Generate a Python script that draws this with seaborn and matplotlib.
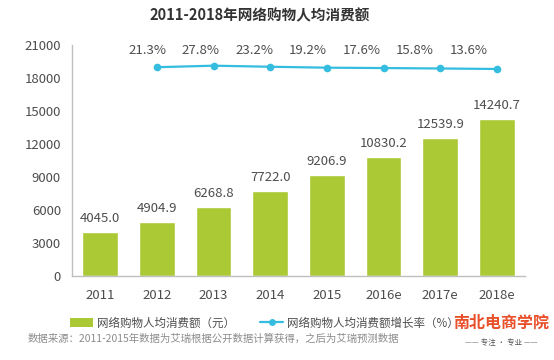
import numpy as np
import pandas as pd
import matplotlib
matplotlib.use("Agg")
import matplotlib.pyplot as plt
from matplotlib.patches import Patch
from matplotlib.lines import Line2D
import seaborn as sns

years = ["2011", "2012", "2013", "2014", "2015", "2016e", "2017e", "2018e"]
spend = [4045.0, 4904.9, 6268.8, 7722.0, 9206.9, 10830.2, 12539.9, 14240.7]
growth_years = ["2012", "2013", "2014", "2015", "2016e", "2017e", "2018e"]
growth = [21.3, 27.8, 23.2, 19.2, 17.6, 15.8, 13.6]
yticks = [0, 3000, 6000, 9000, 12000, 15000, 18000, 21000]

title = "2011-2018年网络购物人均消费额"
bar_name = "网络购物人均消费额（元）"
line_name = "网络购物人均消费额增长率（%）"
source = "数据来源：2011-2015年数据为艾瑞根据公开数据计算获得，之后为艾瑞预测数据"

sns.set_theme(style="white")
plt.rcParams["font.family"] = ["Noto Sans CJK SC", "DejaVu Sans"]

GREEN = "#abc935"
CYAN = "#35bde0"
TXT = "#4d4d4d"
AX = "#bfbfbf"

fig = plt.figure(figsize=(5.54, 3.6), dpi=100)
ax = fig.add_axes([0.130, 0.2333, 0.818, 0.6417])

df = pd.DataFrame({"year": years, "spend": spend})
sns.barplot(data=df, x="year", y="spend", order=years, color=GREEN,
            width=0.63, saturation=1, ax=ax)
ax.set_xlim(-0.5, 7.5)
ax.set_ylim(0, 21000)
ax.set_yticks(yticks)
ax.set_yticklabels([str(v) for v in yticks])
ax.set_xlabel("")
ax.set_ylabel("")
ax.tick_params(axis="both", length=0, labelsize=9.5, colors=TXT)
ax.tick_params(axis="x", pad=9)
ax.tick_params(axis="y", pad=8)
for s in ["top", "right"]:
    ax.spines[s].set_visible(False)
for s in ["left", "bottom"]:
    ax.spines[s].set_color(AX)
    ax.spines[s].set_linewidth(1.0)

for p, v in zip(ax.patches, spend):
    ax.annotate(f"{v:.1f}", (p.get_x() + p.get_width() / 2, p.get_height()),
                xytext=(0, 5), textcoords="offset points", ha="center",
                va="bottom", fontsize=9.5, color=TXT)

ax2 = ax.twinx()
gx = [years.index(y) for y in growth_years]
gdf = pd.DataFrame({"x": gx, "g": growth})
sns.lineplot(data=gdf, x="x", y="g", color=CYAN, linewidth=1.6, marker="o",
             markersize=5.5, markeredgewidth=0, ax=ax2)
ax2.set_ylim(-879, 117)
ax2.set_xlim(-0.5, 7.5)
ax2.axis("off")

label_x = np.linspace(0.83, 6.5, len(growth))
for lx, g in zip(label_x, growth):
    ax.text(lx, 0.978, f"{g:.1f}%", transform=ax.get_xaxis_transform(),
            ha="center", va="center", fontsize=9.5, color=TXT)

fig.text(0.468, 0.958, title, ha="center", va="center", fontsize=10.5,
         fontweight="bold", color="#333333")

handles = [Patch(facecolor=GREEN, edgecolor="none"),
           Line2D([0], [0], color=CYAN, lw=1.6, marker="o", markersize=5,
                  markeredgewidth=0)]
fig.legend(handles, [bar_name, line_name], loc="center left",
           bbox_to_anchor=(0.108, 0.103), ncol=2, frameon=False,
           fontsize=8.3, labelcolor=TXT, handlelength=2.0, handleheight=0.8,
           handletextpad=0.3, columnspacing=2.2)

fig.text(0.049, 0.058, source, ha="left", va="center", fontsize=7.5,
         color="#8c8c8c")

fig.text(0.905, 0.103, "南北电商学院", ha="center", va="center", fontsize=11.5,
         fontweight="bold", color="#e8502a")
fig.text(0.905, 0.048, "—— 专注 · 专业 ——", ha="center", va="center",
         fontsize=5.5, color="#555555")

fig.savefig("out.png", dpi=100)
